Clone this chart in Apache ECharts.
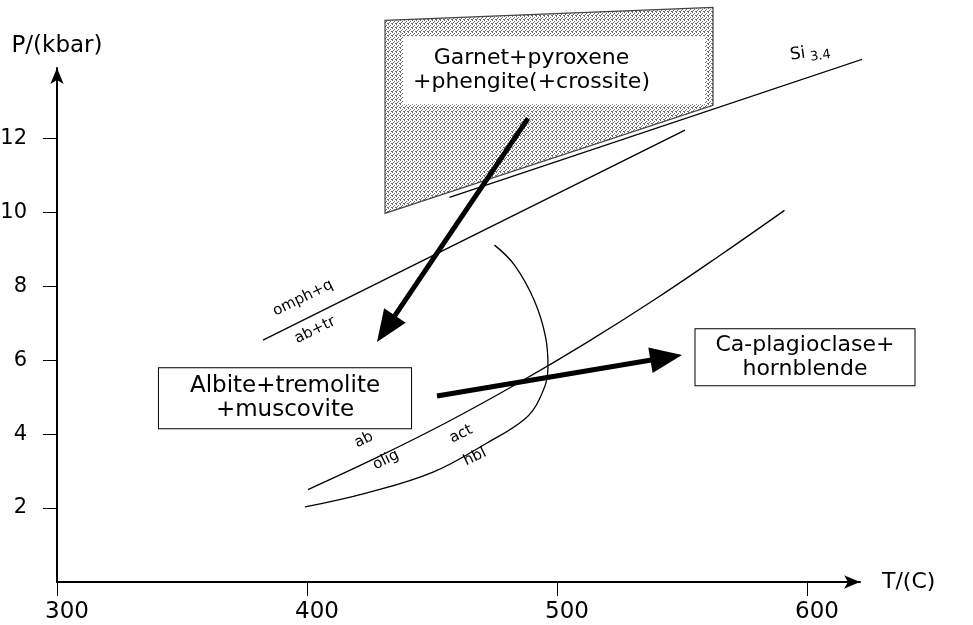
<!DOCTYPE html>
<html><head><meta charset="utf-8">
<script src="https://cdn.jsdelivr.net/npm/echarts@6/dist/echarts.min.js"></script>
<style>html,body{margin:0;padding:0;background:#fff}#c{width:973px;height:625px}</style>
</head><body><div id="c"></div>
<script>
// ---- data (T in °C, P in kbar) ----
const xTicks = [300, 400, 500, 600];
const yTicks = [2, 4, 6, 8, 10, 12];
const xRange = [300, 621.2];
const yRange = [0, 13.9];
const garnetZone = [[431.2, 15.19], [562.4, 15.54], [562.4, 12.89], [431.2, 9.97]];
const omphLine = [[382.4, 6.54], [551.2, 12.22]];
const siLine = [[457, 10.4], [623.2, 14.16]];
const abOligLine = [[400.4, 2.5], [428, 3.37], [456, 4.32], [484, 5.36], [512, 6.48], [540, 7.68], [566, 8.87], [591, 10.05]];
const actHblLine = [[399.2, 2.03], [424, 2.41], [450.4, 2.97], [472, 3.76], [487, 4.4], [493, 4.95], [496.4, 5.8], [495.5, 6.6], [491, 7.6], [483, 8.57], [475, 9.11]];
const arrowStarts = [[488.4, 12.54], [452, 5.03]];
const arrowTips = [[428, 6.49], [550, 6.14]];
const boxTexts = ['Garnet+pyroxene\n+phengite(+crossite)', 'Albite+tremolite\n+muscovite', 'Ca-plagioclase+\nhornblende'];
const boxAnchors = [[498.8, 13.84], [391.2, 4.97], [599.2, 6.08]];
const lineTexts = ['omph+q', 'ab+tr', 'ab', 'olig', 'act', 'hbl'];
const lineAnchors = [[398.4, 7.68], [403.2, 6.81], [422.8, 3.84], [431.6, 3.30], [461.6, 4.0], [467.2, 3.38]];
const siAnchor = [601.2, 14.32];

const F = 'DejaVu Sans';
const chart = echarts.init(document.getElementById('c'), null, {renderer: 'canvas'});
const thin = {color: '#000', width: 1.3};

// dotted screen texture for the shaded field
const tile = document.createElement('canvas');
tile.width = 4; tile.height = 4;
(function () {
  const g = tile.getContext('2d');
  g.fillStyle = '#fff'; g.fillRect(0, 0, 4, 4);
  g.fillStyle = '#6a6a6a';
  [[0, 0], [2, 1], [1, 2], [3, 3], [0, 3]].forEach(p => g.fillRect(p[0], p[1], 1, 1));
})();

function lineSeries(d, smooth) {
  return {type: 'line', data: d, smooth: smooth ? 0.4 : false, symbol: 'none', clip: false,
    lineStyle: thin, z: 3, silent: true};
}

const boxLabelBase = {color: '#000', fontFamily: F, fontSize: 22, lineHeight: 24, align: 'center',
  backgroundColor: '#fff', borderColor: '#000', borderWidth: 1};

const option = {
  animation: false,
  backgroundColor: '#fff',
  grid: {left: 57, right: 113, top: 68, bottom: 43, containLabel: false, outerBoundsMode: 'none'},
  xAxis: {
    type: 'value', min: xRange[0], max: xRange[1],
    axisLine: {lineStyle: {color: '#000', width: 2}, symbol: ['none', 'arrow'], symbolSize: [10, 16]},
    axisTick: {length: 14, customValues: xTicks, lineStyle: {color: '#000', width: 1}},
    axisLabel: {customValues: xTicks, color: '#000', fontSize: 23, fontFamily: F, margin: 19, padding: [0, 0, 0, 20]},
    splitLine: {show: false},
    name: 'T/(C)', nameLocation: 'end', nameGap: 22,
    nameTextStyle: {color: '#000', fontSize: 22, fontFamily: F}
  },
  yAxis: {
    type: 'value', min: yRange[0], max: yRange[1],
    axisLine: {lineStyle: {color: '#000', width: 2}, symbol: ['none', 'arrow'], symbolSize: [10, 16]},
    axisTick: {length: 14, customValues: yTicks, lineStyle: {color: '#000', width: 1}},
    axisLabel: {customValues: yTicks, color: '#000', fontSize: 21, fontFamily: F, margin: 30},
    splitLine: {show: false},
    name: 'P/(kbar)', nameLocation: 'end', nameGap: 10,
    nameTextStyle: {color: '#000', fontSize: 23, fontFamily: F}
  },
  series: [
    {
      type: 'custom', clip: false, z: 1, silent: true,
      data: [0],
      renderItem: function (params, api) {
        const pts = garnetZone.map(p => api.coord(p));
        return {type: 'polygon', shape: {points: pts},
          style: {fill: {image: tile, repeat: 'repeat'}, stroke: '#444', lineWidth: 1.2}};
      }
    },
    lineSeries(omphLine, false),
    lineSeries(siLine, false),
    lineSeries(abOligLine, true),
    lineSeries(actHblLine, true),
    {
      type: 'custom', clip: false, z: 6, silent: true,
      data: arrowStarts.map((s, i) => [s[0], s[1], arrowTips[i][0], arrowTips[i][1]]),
      encode: {x: [0, 2], y: [1, 3]},
      renderItem: function (params, api) {
        const p0 = api.coord([api.value(0), api.value(1)]);
        const p1 = api.coord([api.value(2), api.value(3)]);
        const dx = p1[0] - p0[0], dy = p1[1] - p0[1];
        const L = Math.hypot(dx, dy), ux = dx / L, uy = dy / L;
        const hl = 32, hw = 13;
        const bx = p1[0] - ux * hl, by = p1[1] - uy * hl;
        return {type: 'group', children: [
          {type: 'line', shape: {x1: p0[0], y1: p0[1], x2: bx + ux * 4, y2: by + uy * 4},
            style: {stroke: '#000', lineWidth: 5}},
          {type: 'polygon', shape: {points: [[p1[0], p1[1]], [bx - uy * hw, by + ux * hw], [bx + uy * hw, by - ux * hw]]},
            style: {fill: '#000'}}
        ]};
      }
    },
    {
      type: 'scatter', clip: false, z: 5, silent: true, symbolSize: 0,
      itemStyle: {opacity: 1},
      data: [
        {value: boxAnchors[0], name: boxTexts[0],
          label: Object.assign({}, boxLabelBase, {borderWidth: 0, padding: [14, 55, 6, 10]})},
        {value: boxAnchors[1], name: boxTexts[1],
          label: Object.assign({}, boxLabelBase, {fontSize: 23, lineHeight: 24, padding: [7, 31, 5, 31]})},
        {value: boxAnchors[2], name: boxTexts[2],
          label: Object.assign({}, boxLabelBase, {padding: [5, 20, 3, 20]})}
      ],
      label: {show: true, position: 'inside', formatter: p => p.name, opacity: 1},
      labelLayout: {hideOverlap: false}
    },
    {
      type: 'scatter', clip: false, z: 4, silent: true, symbolSize: 0,
      itemStyle: {opacity: 1},
      data: lineAnchors.map((p, i) => ({value: p, name: lineTexts[i]})),
      label: {show: true, position: 'inside', formatter: p => p.name, rotate: 26, opacity: 1,
        color: '#000', fontFamily: F, fontSize: 15}
    },
    {
      type: 'scatter', clip: false, z: 4, silent: true, symbolSize: 0,
      itemStyle: {opacity: 1},
      data: [{value: siAnchor, name: 'Si'}],
      label: {show: true, position: 'inside', rotate: 8, opacity: 1,
        formatter: '{a|Si}{b| 3.4}',
        rich: {a: {fontFamily: F, fontSize: 17, color: '#000'},
               b: {fontFamily: F, fontSize: 13, color: '#000', padding: [10, 0, 0, 0]}}}
    }
  ]
};
chart.setOption(option);
</script>
</body></html>
